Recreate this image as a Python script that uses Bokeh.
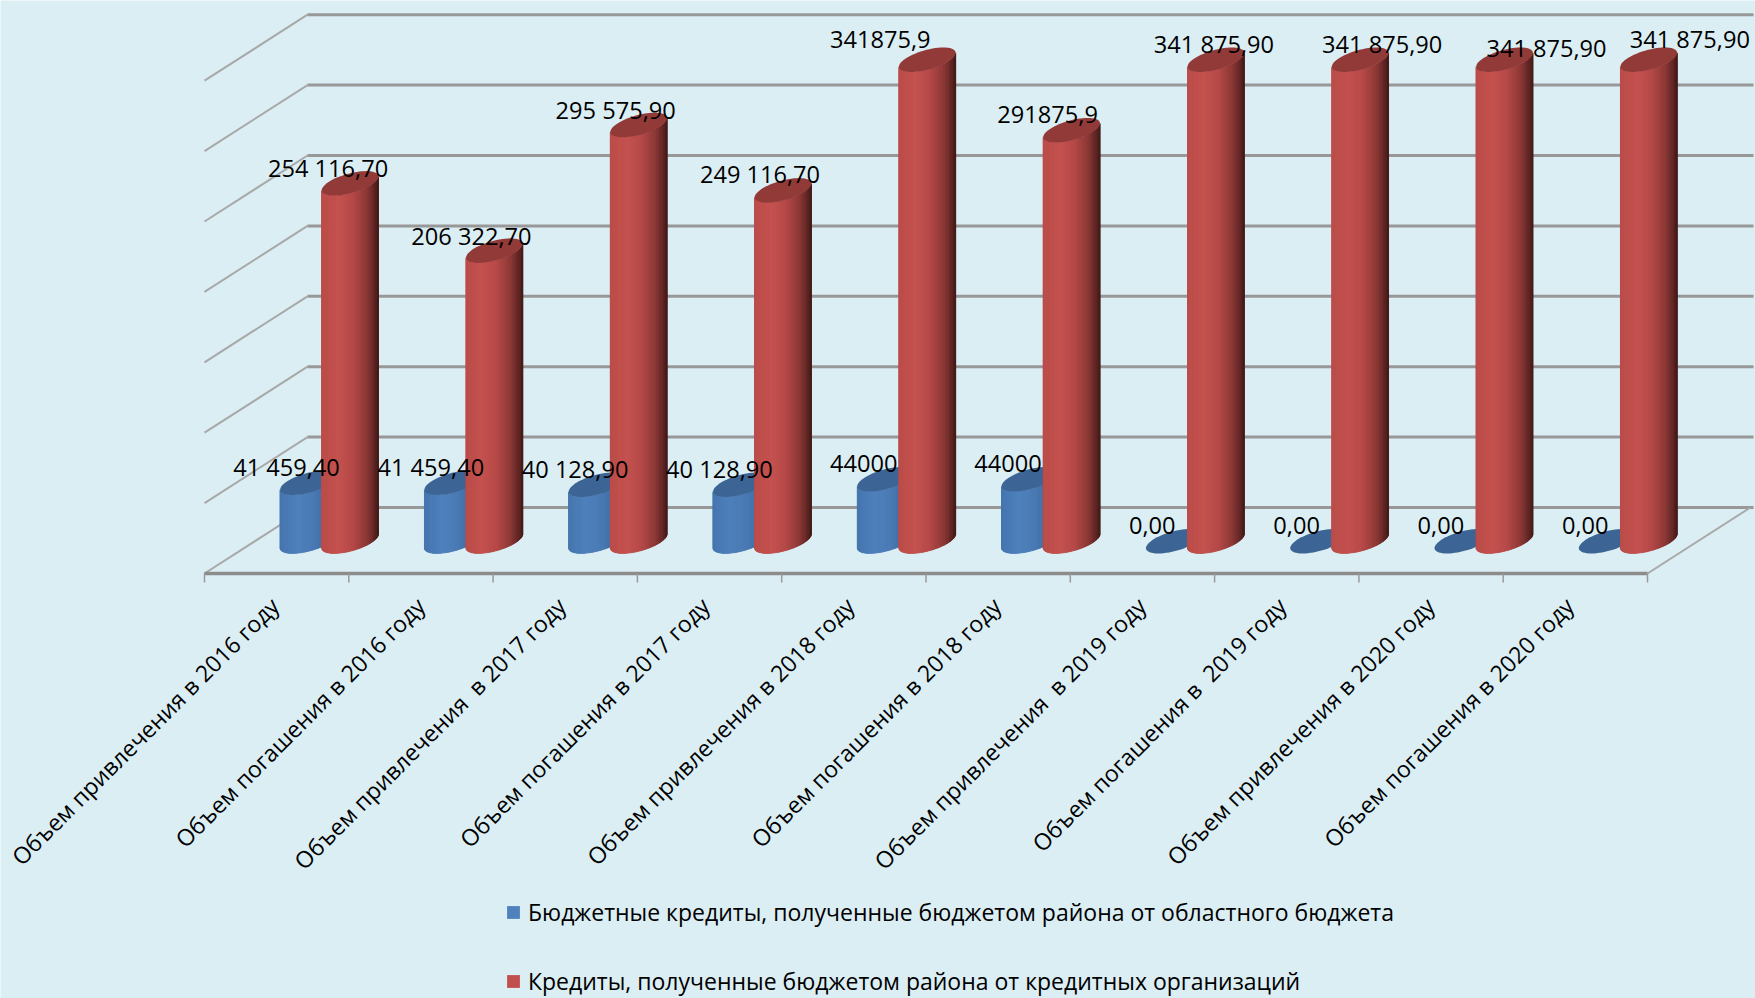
import math
from bokeh.plotting import figure, ColumnDataSource
from bokeh.models import Legend, LegendItem, Range1d
from bokeh.embed import file_html
from bokeh.resources import INLINE
from bokeh.core.properties import value

categories = [
    "Объем привлечения в 2016 году", "Объем погашения в 2016 году",
    "Объем привлечения\u00a0 в 2017 году", "Объем погашения в 2017 году",
    "Объем привлечения в 2018 году", "Объем погашения в 2018 году",
    "Объем привлечения\u00a0 в 2019 году", "Объем погашения в\u00a0 2019 году",
    "Объем привлечения в 2020 году", "Объем погашения в 2020 году",
]
series_names = ["Бюджетные кредиты, полученные бюджетом района от областного бюджета",
                "Кредиты, полученные бюджетом района от кредитных организаций"]
budget_values = [41459.4, 41459.4, 40128.9, 40128.9, 44000, 44000, 0, 0, 0, 0]
bank_values = [254116.7, 206322.7, 295575.9, 249116.7, 341875.9, 291875.9,
               341875.9, 341875.9, 341875.9, 341875.9]
budget_labels = ["41 459,40", "41 459,40", "40 128,90", "40 128,90", "44000", "44000",
                 "0,00", "0,00", "0,00", "0,00"]
bank_labels = ["254 116,70", "206 322,70", "295 575,90", "249 116,70", "341875,9", "291875,9",
               "341 875,90", "341 875,90", "341 875,90", "341 875,90"]
value_ticks = [0, 50000, 100000, 150000, 200000, 250000, 300000, 350000]

# layout of the pseudo-3D box, in screen pixels of the reference
CAT_PX = 144.3
X0_PX = 204.0
Y0_PX = 573.0
UNIT_PX = 70.4 / 50000
DEPTH_X_PX, DEPTH_Y_PX = 103.0, 66.0
W, H = 1755, 998
BG = "#dbeef4"
FONT = "Open Sans"

p = figure(width=W, height=H, output_backend="svg", toolbar_location=None,
           x_range=Range1d((0 - X0_PX) / CAT_PX, (W - X0_PX) / CAT_PX),
           y_range=Range1d((Y0_PX - H) / UNIT_PX, Y0_PX / UNIT_PX),
           min_border=0, outline_line_color=None, background_fill_color=BG,
           border_fill_color=BG, x_axis_location=None, y_axis_location=None)
p.grid.visible = False

DX = DEPTH_X_PX / CAT_PX
DY = DEPTH_Y_PX / UNIT_PX
N = len(categories)
px_x = 1 / CAT_PX
px_y = 1 / UNIT_PX

# walls: gridlines
xs, ys = [], []
for v in value_ticks:
    xs.append([0, DX]); ys.append([v, v + DY])
p.multi_line(xs, ys, line_color="#a8a8a8", line_width=2)
xs = [[DX, N + DX + 3 * px_x] for v in value_ticks]
ys = [[v + DY, v + DY] for v in value_ticks]
p.multi_line(xs, ys, line_color="#989898", line_width=3)
# floor
p.line([N, N + DX], [0, DY], line_color="#a8a8a8", line_width=2)
p.line([0, N], [0, 0], line_color="#8c8c8c", line_width=3.5)
p.segment(x0=list(range(N + 1)), y0=[0] * (N + 1), x1=list(range(N + 1)),
          y1=[-9 * px_y] * (N + 1), line_color="#9a9a9a", line_width=1.5)


def rgb(h):
    return [int(h[i:i + 2], 16) for i in (1, 3, 5)]


def mix(c1, c2, t):
    return "#%02x%02x%02x" % tuple(round(a + (b - a) * t) for a, b in zip(rgb(c1), rgb(c2)))


def grad(stops, t):
    t = min(max(t, 0.0), 1.0)
    for (t0, c0), (t1, c1) in zip(stops, stops[1:]):
        if t <= t1:
            return mix(c0, c1, (t - t0) / (t1 - t0))
    return stops[-1][1]


A_PX, SX_PX, SY_PX = 23.4, 16.0, 12.3
R_PX = math.hypot(A_PX, SX_PX)
BASE_D = 0.49
th_r = math.atan2(SX_PX, A_PX)
th_l = th_r - math.pi
STEPS = 44
thetas = [th_l + (th_r - th_l) * i / STEPS for i in range(STEPS + 1)]


def ex(th):
    return (A_PX * math.cos(th) + SX_PX * math.sin(th)) * px_x


def ey(th):
    return SY_PX * math.sin(th) * px_y


BLUE_CX_PX, RED_CX_PX = 308.0, 349.6
blue_stops = [(0, "#4676ae"), (0.3, "#4f81bd"), (0.6, "#4a7ab3"), (1, "#38608e")]
red_stops = [(0, "#bb4e4b"), (0.3, "#c5524f"), (0.55, "#b54a48"), (0.8, "#8a3836"), (1, "#451c1b")]

legend_r = {}
for i in range(N):
    for key, vals, cx_px, stops, capc in (
        ("b", budget_values, BLUE_CX_PX, blue_stops, "#3c6494"),
        ("r", bank_values, RED_CX_PX, red_stops, "#923a38"),
    ):
        cx = i + (cx_px - X0_PX) / CAT_PX
        base = BASE_D * DY
        top = base + vals[i]
        base_col = "#4f81bd" if key == "b" else "#c0504d"
        if vals[i] > 0:
            sx = [cx + ex(t) for t in thetas] + [cx + ex(t) for t in reversed(thetas)]
            sy = [base + ey(t) for t in thetas] + [top + ey(t) for t in reversed(thetas)]
            r = p.patch(sx, sy, fill_color=base_col, line_color=None)
            legend_r.setdefault(key, r)
            strips = {"xs": [], "ys": [], "c": []}
            for t0, t1 in zip(thetas, thetas[1:]):
                f = ((ex(t0) + ex(t1)) / 2 / (R_PX * px_x) + 1) / 2
                strips["xs"].append([cx + ex(t0), cx + ex(t1), cx + ex(t1), cx + ex(t0)])
                strips["ys"].append([base + ey(t0), base + ey(t1), top + ey(t1), top + ey(t0)])
                strips["c"].append(grad(stops, f))
            p.patches("xs", "ys", source=ColumnDataSource(strips), fill_color="c",
                      line_color="c", line_width=0.6)
        ring = [2 * math.pi * k / 60 for k in range(60)]
        p.patch([cx + ex(t) for t in ring], [top + ey(t) for t in ring],
                fill_color=capc, line_color=None)

# data labels
blue_off_x = [-22] * N
blue_off_y = [-16] * N
red_off_x = [-22, -23, -23, -23, -47, -24, -2, 22, 42, 41]
red_off_y = [-15, -15, -15, -16, -20, -16, -16, -16, -12, -21]
for vals, cx_px, labels, ox, oy in (
    (budget_values, BLUE_CX_PX, budget_labels, blue_off_x, blue_off_y),
    (bank_values, RED_CX_PX, bank_labels, red_off_x, red_off_y),
):
    src = ColumnDataSource(dict(
        x=[i + (cx_px - X0_PX) / CAT_PX for i in range(N)],
        y=[v + BASE_D * DY for v in vals],
        t=labels, ox=ox, oy=oy))
    p.text("x", "y", text="t", source=src, x_offset="ox", y_offset="oy",
           text_align="center", text_baseline="middle", text_color="black",
           text_font=value(FONT), text_font_size="23.6px")

# category labels
cat_off_x = [-6, -4.5, -8, -8.5, -8, -5.5, -5, -9, -5, -10]
src = ColumnDataSource(dict(x=[i + 0.5 + 4 * px_x for i in range(N)],
                            y=[-28 * px_y] * N, t=categories, ox=cat_off_x))
p.text("x", "y", text="t", source=src, angle=math.pi / 4, x_offset="ox", text_align="right",
       text_baseline="middle", text_color="black", text_font=value(FONT),
       text_font_size="23px")

legend = Legend(items=[LegendItem(label=series_names[0], renderers=[legend_r["b"]]),
                       LegendItem(label=series_names[1], renderers=[legend_r["r"]])],
                location=(505, 1), orientation="vertical", background_fill_alpha=0,
                border_line_color=None, glyph_width=16, glyph_height=16, spacing=37,
                label_text_font=FONT, label_text_font_size="23px", label_text_color="black",
                label_standoff=7, padding=0, margin=0, label_height=30)
p.add_layout(legend, "center")

open("out.html", "w").write(file_html(p, INLINE))
